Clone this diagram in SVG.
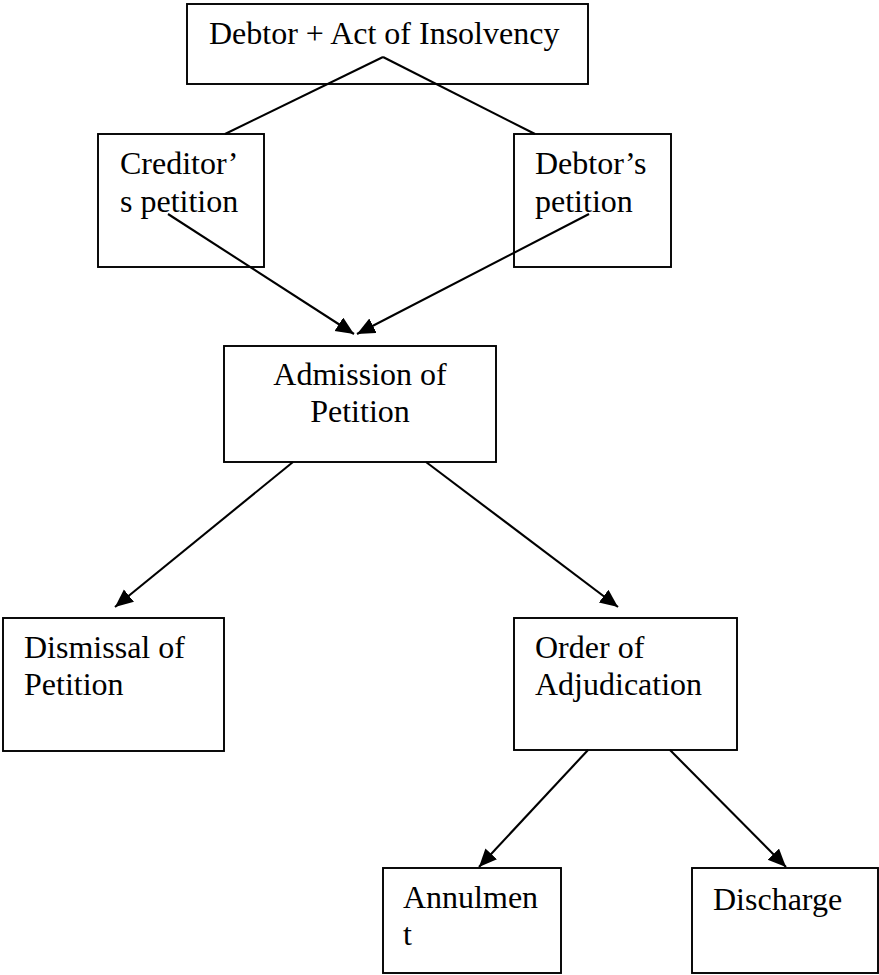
<svg xmlns="http://www.w3.org/2000/svg" width="879" height="975" viewBox="0 0 879 975">
  <style>
    .box { fill: #ffffff; stroke: #000000; stroke-width: 1.9; }
    .lbl { font-family: "Liberation Serif", "Times New Roman", serif; font-size: 32px; fill: #000000; }
    .conn { stroke: #000000; stroke-width: 2.1; fill: none; }
  </style>
  <defs>
    <marker id="arrow" markerUnits="userSpaceOnUse" markerWidth="19" markerHeight="17" refX="18" refY="8" orient="auto">
      <path d="M0,0 L18,8 L0,16 z" fill="#000000"/>
    </marker>
  </defs>
  <rect width="879" height="975" fill="#ffffff"/>

  <g id="node-top">
    <rect class="box" x="187" y="4" width="401" height="80"/>
    <text class="lbl" x="209" y="44">Debtor + Act of Insolvency</text>
  </g>
  <g id="node-creditor">
    <rect class="box" x="98" y="134" width="166" height="133"/>
    <text class="lbl" x="120" y="174">Creditor’</text>
    <text class="lbl" x="120" y="212">s petition</text>
  </g>
  <g id="node-debtor">
    <rect class="box" x="514" y="134" width="157" height="133"/>
    <text class="lbl" x="535" y="174">Debtor’s</text>
    <text class="lbl" x="535" y="212">petition</text>
  </g>
  <g id="node-admission">
    <rect class="box" x="224" y="346" width="272" height="116"/>
    <text class="lbl" x="360" y="385" text-anchor="middle">Admission of</text>
    <text class="lbl" x="360" y="422" text-anchor="middle">Petition</text>
  </g>
  <g id="node-dismissal">
    <rect class="box" x="3" y="618" width="221" height="133"/>
    <text class="lbl" x="24" y="658">Dismissal of</text>
    <text class="lbl" x="24" y="695">Petition</text>
  </g>
  <g id="node-order">
    <rect class="box" x="514" y="618" width="223" height="132"/>
    <text class="lbl" x="535" y="658">Order of</text>
    <text class="lbl" x="535" y="695">Adjudication</text>
  </g>
  <g id="node-annulment">
    <rect class="box" x="383" y="868" width="178" height="105"/>
    <text class="lbl" x="403" y="908">Annulmen</text>
    <text class="lbl" x="403" y="945">t</text>
  </g>
  <g id="node-discharge">
    <rect class="box" x="692" y="868" width="186" height="105"/>
    <text class="lbl" x="713" y="910">Discharge</text>
  </g>

  <g id="connectors">
    <line class="conn" x1="383" y1="57" x2="225" y2="134"/>
    <line class="conn" x1="383" y1="57" x2="535" y2="134"/>
    <line class="conn" x1="168" y1="214" x2="354" y2="334" marker-end="url(#arrow)"/>
    <line class="conn" x1="589" y1="214" x2="357" y2="334" marker-end="url(#arrow)"/>
    <line class="conn" x1="293" y1="462" x2="115" y2="607" marker-end="url(#arrow)"/>
    <line class="conn" x1="426" y1="462" x2="618" y2="607" marker-end="url(#arrow)"/>
    <line class="conn" x1="588" y1="750" x2="479" y2="867" marker-end="url(#arrow)"/>
    <line class="conn" x1="670" y1="750" x2="786" y2="867" marker-end="url(#arrow)"/>
  </g>
</svg>
